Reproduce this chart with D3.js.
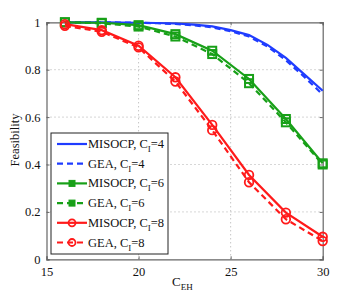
<!DOCTYPE html>
<html>
<head>
<meta charset="utf-8">
<script src="https://cdn.jsdelivr.net/npm/d3@7"></script>
<style>
  body { margin: 0; background: #fff; }
</style>
</head>
<body>
<div id="chart"></div>
<script>
// x values (C_EH)
var xMarked = [16, 18, 20, 22, 24, 26, 28, 30];
var xFine = [16, 17, 18, 19, 20, 21, 22, 23, 24, 25, 26, 27, 28, 29, 30];

// C_I = 4 (no markers, fine sampling)
var misocp4 = [1, 1, 1, 0.999, 0.998, 0.997, 0.995, 0.99, 0.983, 0.967, 0.946, 0.905, 0.85, 0.78, 0.711];
var gea4 = [1, 1, 1, 0.999, 0.998, 0.996, 0.993, 0.987, 0.979, 0.962, 0.94, 0.898, 0.84, 0.77, 0.695];
// C_I = 6
var misocp6 = [1, 0.998, 0.988, 0.95, 0.88, 0.761, 0.592, 0.405];
var gea6 = [1, 0.996, 0.982, 0.94, 0.866, 0.743, 0.578, 0.4];
// C_I = 8
var misocp8 = [0.992, 0.967, 0.901, 0.768, 0.567, 0.356, 0.197, 0.095];
var gea8 = [0.985, 0.96, 0.894, 0.75, 0.545, 0.325, 0.169, 0.077];

var xTicks = [15, 20, 25, 30];
var yTicks = [0, 0.2, 0.4, 0.6, 0.8, 1];

var blue = "#1f3cff", green = "#18a018", red = "#ff1a1a";
var serif = "'Liberation Serif'";

var series = [
  {name: "MISOCP, C", sub: "I", tail: "=4", xs: xFine, ys: misocp4, color: blue, dash: null, marker: null},
  {name: "GEA, C", sub: "I", tail: "=4", xs: xFine, ys: gea4, color: blue, dash: "6,4", marker: null},
  {name: "MISOCP, C", sub: "I", tail: "=6", xs: xMarked, ys: misocp6, color: green, dash: null, marker: "square"},
  {name: "GEA, C", sub: "I", tail: "=6", xs: xMarked, ys: gea6, color: green, dash: "6,4", marker: "square"},
  {name: "MISOCP, C", sub: "I", tail: "=8", xs: xMarked, ys: misocp8, color: red, dash: null, marker: "circle"},
  {name: "GEA, C", sub: "I", tail: "=8", xs: xMarked, ys: gea8, color: red, dash: "6,4", marker: "circle"}
];

var W = 357, H = 295;
var L = 46.5, R = 322.7, T = 22.3, B = 259.3;

var svg = d3.select("#chart").append("svg").attr("width", W).attr("height", H);

var x = d3.scaleLinear().domain([15, 30]).range([L, R]);
var y = d3.scaleLinear().domain([0, 1]).range([B, T]);

// grid
var grid = svg.append("g");
grid.selectAll("line.gx").data(xTicks.slice(1, -1)).enter().append("line")
  .attr("x1", function(d){ return x(d); }).attr("x2", function(d){ return x(d); })
  .attr("y1", T).attr("y2", B)
  .attr("stroke", "#999").attr("stroke-width", 0.8).attr("stroke-dasharray", "1,3");
grid.selectAll("line.gy").data(yTicks.slice(1, -1)).enter().append("line")
  .attr("y1", function(d){ return y(d); }).attr("y2", function(d){ return y(d); })
  .attr("x1", L).attr("x2", R)
  .attr("stroke", "#999").attr("stroke-width", 0.8).attr("stroke-dasharray", "1,3");

// axes
var xAxis = svg.append("g").attr("transform", "translate(0," + B + ")")
  .call(d3.axisBottom(x).tickValues(xTicks).tickSize(-3).tickPadding(8).tickFormat(d3.format("d")));
var yAxis = svg.append("g").attr("transform", "translate(" + L + ",0)")
  .call(d3.axisLeft(y).tickValues(yTicks).tickSize(-3).tickPadding(6).tickFormat(function(d){ return d === 0 || d === 1 ? d : d.toFixed(1); }));
var xTop = svg.append("g").attr("transform", "translate(0," + T + ")")
  .call(d3.axisTop(x).tickValues(xTicks).tickSize(-3).tickFormat(""));
var yRight = svg.append("g").attr("transform", "translate(" + R + ",0)")
  .call(d3.axisRight(y).tickValues(yTicks).tickSize(-3).tickFormat(""));

[xAxis, yAxis, xTop, yRight].forEach(function(g){
  g.select(".domain").attr("stroke", "#666").attr("stroke-width", 1.2);
  g.selectAll(".tick line").attr("stroke", "#666");
  g.selectAll("text").attr("font-size", 12.5).attr("fill", "#111").style("font-family", serif);
});

// lines
var line = d3.line()
  .x(function(d){ return x(d[0]); })
  .y(function(d){ return y(d[1]); });

function drawMarker(g, kind, cx, cy, color) {
  if (kind === "square") {
    g.append("rect").attr("x", cx - 4).attr("y", cy - 4).attr("width", 8).attr("height", 8)
      .attr("fill", "none").attr("stroke", color).attr("stroke-width", 2);
  } else if (kind === "circle") {
    g.append("circle").attr("cx", cx).attr("cy", cy).attr("r", 4.3)
      .attr("fill", "none").attr("stroke", color).attr("stroke-width", 1.8);
  }
}

var plot = svg.append("g");
series.forEach(function(s){
  var pts = s.xs.map(function(v, i){ return [v, s.ys[i]]; });
  plot.append("path").datum(pts).attr("d", line)
    .attr("fill", "none").attr("stroke", s.color).attr("stroke-width", 2.2)
    .attr("stroke-dasharray", s.dash);
  if (s.marker) {
    pts.forEach(function(p){ drawMarker(plot, s.marker, x(p[0]), y(p[1]), s.color); });
  }
});

// legend
var lgX = 51, lgY = 133, lgW = 117, lgH = 121;
var lg = svg.append("g");
lg.append("rect").attr("x", lgX).attr("y", lgY).attr("width", lgW).attr("height", lgH)
  .attr("fill", "#fff").attr("stroke", "#222").attr("stroke-width", 1);
series.forEach(function(s, i){
  var cy = 144 + i * 19.7;
  lg.append("line").attr("x1", 57).attr("x2", 87).attr("y1", cy).attr("y2", cy)
    .attr("stroke", s.color).attr("stroke-width", 2.2).attr("stroke-dasharray", s.dash);
  if (s.marker) {
    if (s.marker === "square") {
      lg.append("rect").attr("x", 72 - 3).attr("y", cy - 3).attr("width", 6).attr("height", 6)
        .attr("fill", s.color).attr("stroke", s.color).attr("stroke-width", 1);
    } else {
      lg.append("circle").attr("cx", 72).attr("cy", cy).attr("r", 3.5)
        .attr("fill", "none").attr("stroke", s.color).attr("stroke-width", 1.8);
    }
  }
  var t = lg.append("text").attr("x", 88).attr("y", cy + 4).attr("font-size", 12.5)
    .style("font-family", serif).attr("fill", "#111");
  t.append("tspan").text(s.name);
  t.append("tspan").attr("font-size", 9).attr("dy", 4).text(s.sub);
  t.append("tspan").attr("dy", -4).text(s.tail);
});

// axis titles
var xl = svg.append("text").attr("x", 172).attr("y", 286).attr("font-size", 13)
  .style("font-family", serif).attr("fill", "#111");
xl.append("tspan").text("C");
xl.append("tspan").attr("font-size", 9).attr("dy", 4).text("EH");

svg.append("text").attr("transform", "translate(19,140) rotate(-90)")
  .attr("text-anchor", "middle").attr("font-size", 12.5).style("font-family", serif)
  .attr("fill", "#111").text("Feasibility");
</script>
</body>
</html>
